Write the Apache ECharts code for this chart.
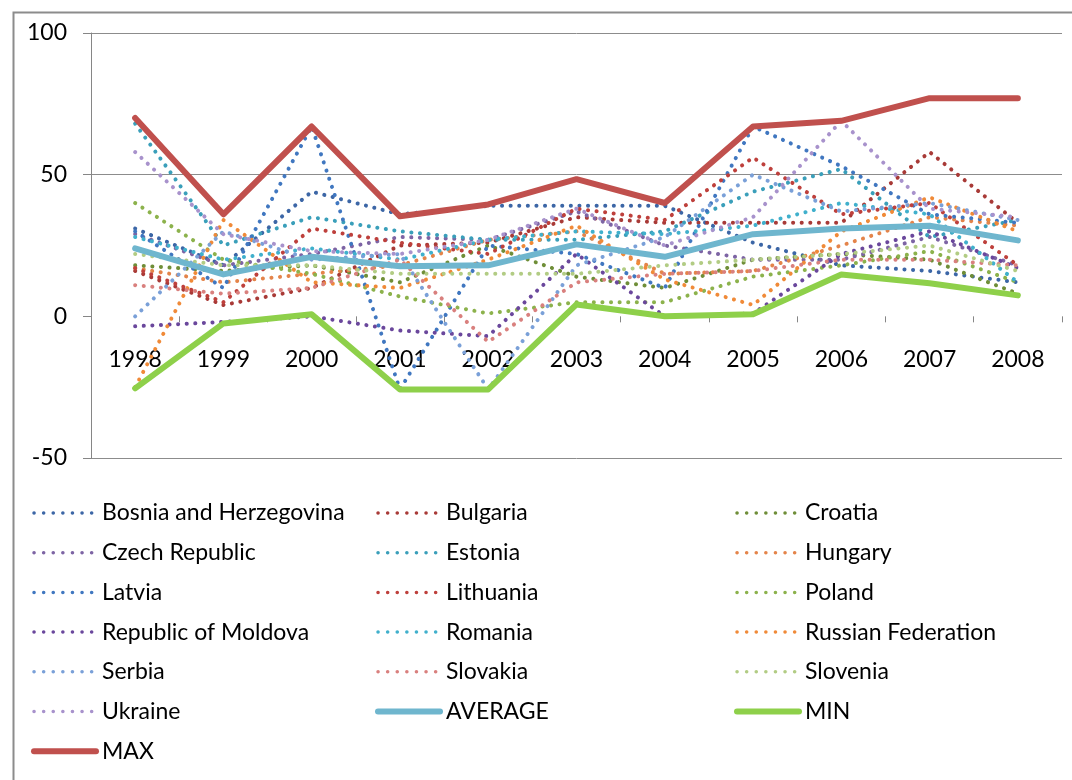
<!DOCTYPE html>
<html>
<head>
<meta charset="utf-8">
<script src="https://cdn.jsdelivr.net/npm/echarts@6/dist/echarts.min.js"></script>
<style>
html,body{margin:0;padding:0;background:#fff;}
#chart{width:1072px;height:780px;}
</style>
</head>
<body>
<div id="chart"></div>
<script>
const years = ['1998','1999','2000','2001','2002','2003','2004','2005','2006','2007','2008'];
const yTicks = [-50, 0, 50, 100];

const bosnia    = [31, 18, 44, 36, 39, 39, 39, 26, 18, 16, 12];
const bulgaria  = [16, 4, 10, 25, 26, 35, 33, 33, 33, 58, 33];
const croatia   = [18, 16, 18, 12, 25, 14, 10, 20, 22, 20, 8];
const czech     = [29, 18, 22, 28, 27, 37, 25, 20, 20, 28, 18];
const estonia   = [68, 25, 35, 30, 27, 27, 30, 44, 52, 28, 34];
const hungary   = [17, 12, 15, 18, 27, 30, 15, 16, 25, 35, 32];
const latvia    = [30, 10, 67, -25.8, 25, 22, 10, 67, 53, 36, 33];
const lithuania = [17, 5, 31, 26, 22, 38, 34, 56, 36, 40, 18];
const poland    = [40, 20, 15, 7, 1, 5, 5, 14, 18, 23, 12];
const moldova   = [-3.5, -2, 0, -5, -7, 22, 0, 1, 22, 30, 17];
const romania   = [28, 20, 24, 20, 27, 30, 29, 32, 40, 36, 12];
const russia    = [-25, 34, 12, 10, 20, 32, 13, 4, 30, 42, 30];
const serbia    = [0, 30, 20, 22, -25.8, 18, 28, 50, 37, 40, 34];
const slovakia  = [11, 8, 10, 20, -9, 12, 15, 16, 20, 20, 18];
const slovenia  = [22, 18, 18, 15, 15, 15, 18, 20, 22, 25, 16];
const ukraine   = [58, 29, 23, 22, 27, 38, 25, 35, 69, 38, 35];
const average   = [24, 14.8, 21, 17.7, 18, 25.4, 21, 29, 31, 32, 26.8];
const minVals   = [-25.4, -2.5, 0.7, -25.8, -25.8, 4.2, 0, 0.7, 14.8, 11.7, 7.4];
const maxVals   = [70, 36, 67, 35.3, 39.5, 48.4, 40, 67, 69, 77, 77];

const dotted = [
  ['Bosnia and Herzegovina', bosnia, '#3c66a6'],
  ['Bulgaria', bulgaria, '#a83a37'],
  ['Croatia', croatia, '#6f8e38'],
  ['Czech Republic', czech, '#7d64a4'],
  ['Estonia', estonia, '#3a9fba'],
  ['Hungary', hungary, '#e4844a'],
  ['Latvia', latvia, '#4077c0'],
  ['Lithuania', lithuania, '#be403c'],
  ['Poland', poland, '#8cb24c'],
  ['Republic of Moldova', moldova, '#6a479c'],
  ['Romania', romania, '#40b0cc'],
  ['Russian Federation', russia, '#f08a38'],
  ['Serbia', serbia, '#7aa0d8'],
  ['Slovakia', slovakia, '#d9807e'],
  ['Slovenia', slovenia, '#b2cc84'],
  ['Ukraine', ukraine, '#a892cc']
];
const solid = [
  ['AVERAGE', average, '#6fb6ce'],
  ['MIN', minVals, '#8ed04a'],
  ['MAX', maxVals, '#c0504d']
];

const DOT = [0.1, 8.5];
const series = [];
dotted.forEach(function (d) {
  series.push({
    name: d[0], type: 'line', data: d[1], symbol: 'none', color: d[2],
    lineStyle: { color: d[2], width: 4, type: DOT, cap: 'round' },
    emphasis: { disabled: true }, animation: false
  });
});
solid.forEach(function (d) {
  series.push({
    name: d[0], type: 'line', data: d[1], symbol: 'none', color: d[2],
    lineStyle: { color: d[2], width: 6, cap: 'round', join: 'round' },
    emphasis: { disabled: true }, animation: false
  });
});

const FONT = 'Lato';
const FS = 23;
const solidNames = solid.map(function (s) { return s[0]; });
function legendCol(names, left) {
  return {
    orient: 'vertical', left: left, top: 501.5, padding: 0,
    itemWidth: 62, itemHeight: 4, itemGap: 16.7,
    selectedMode: false,
    itemStyle: { color: 'rgba(0,0,0,0)', borderWidth: 0 },
    textStyle: { fontFamily: FONT, fontSize: FS, color: '#000', lineHeight: 23, padding: [0, 0, 0, 1] },
    data: names.map(function (n) {
      const isSolid = solidNames.indexOf(n) >= 0;
      return { name: n, lineStyle: isSolid ? { width: 6, cap: 'round' } : { width: 3.5, type: [0.1, 9.5], cap: 'round' } };
    })
  };
}

const chart = echarts.init(document.getElementById('chart'), null, { renderer: 'canvas' });
chart.setOption({
  animation: false,
  backgroundColor: '#fff',
  graphic: [{
    type: 'rect', left: 11, top: 10, z: -10,
    shape: { width: 1200, height: 1000 },
    style: { fill: 'none', stroke: '#8c8c8c', lineWidth: 2 }
  }],
  grid: { left: 91, right: 10, top: 33, bottom: 322, containLabel: false },
  xAxis: {
    type: 'category', data: years, boundaryGap: true,
    axisLine: { show: true, onZero: true, lineStyle: { color: 'rgba(0,0,0,0)' } },
    axisTick: { show: true, length: 6, inside: false, lineStyle: { color: '#868686' } },
    axisLabel: { fontFamily: FONT, fontSize: FS, color: '#000', margin: -110 },
    splitLine: { show: false }
  },
  yAxis: {
    type: 'value', min: yTicks[0], max: yTicks[yTicks.length - 1], interval: 50,
    axisLine: { show: true, lineStyle: { color: '#868686' } },
    axisTick: { show: true, length: 8, lineStyle: { color: '#868686' } },
    axisLabel: { fontFamily: FONT, fontSize: FS, color: '#000', margin: 24 },
    splitLine: { show: true, lineStyle: { color: ['#8c8c8c', 'rgba(0,0,0,0)', '#8c8c8c', '#8c8c8c'], width: 1 } }
  },
  legend: [
    legendCol(['Bosnia and Herzegovina', 'Czech Republic', 'Latvia', 'Republic of Moldova', 'Serbia', 'Ukraine', 'MAX'], 31),
    legendCol(['Bulgaria', 'Estonia', 'Lithuania', 'Romania', 'Slovakia', 'AVERAGE'], 375),
    legendCol(['Croatia', 'Hungary', 'Poland', 'Russian Federation', 'Slovenia', 'MIN'], 734)
  ],
  series: series
});
</script>
</body>
</html>
